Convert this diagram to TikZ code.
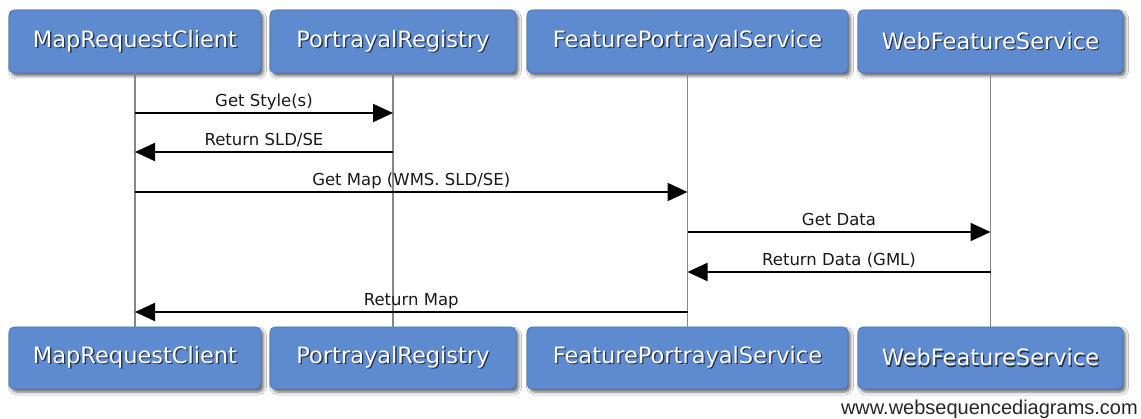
\documentclass[tikz,border=0pt]{standalone}
\usepackage{fontspec}
\setmainfont{DejaVu Sans}
\newfontfamily\footfont{Liberation Sans}
\usetikzlibrary{arrows.meta,shadows.blur}
\definecolor{actorblue}{RGB}{94,139,208}
\definecolor{actoredge}{RGB}{78,118,182}
\definecolor{textshade}{RGB}{40,50,70}
\definecolor{lifegray}{RGB}{135,135,135}
% white caption with a soft dark drop shadow
\newcommand\actorname[1]{\makebox[0pt][l]{\kern1.3pt\raisebox{-1.3pt}{\color{textshade}#1}}\color{white}#1}
\begin{document}
\begin{tikzpicture}[x=1pt,y=-1pt,
  actor/.style={fill=actorblue, draw=actoredge, line width=0.8pt, rounded corners=5pt,
    inner sep=0pt, minimum height=63pt,
    blur shadow={shadow xshift=2.5pt, shadow yshift=-3pt, shadow blur radius=3pt, shadow opacity=60},
    font=\fontsize{22.5}{27}\selectfont},
  lifeline/.style={draw=lifegray, line width=1.9pt},
  msg/.style={draw=black, line width=2pt, -{Triangle[length=20pt,width=18pt]}},
  msglabel/.style={midway, anchor=base, yshift=6pt, inner sep=0pt, text=black!90, font=\fontsize{16.5}{20}\selectfont}]
\useasboundingbox[fill=white] (0,0) rectangle (1141,419);

% participants, top row
\node[actor, minimum width=252pt] (mrcT) at (135,41.5) {\actorname{MapRequestClient}};
\node[actor, minimum width=246pt] (prT)  at (393,41.5) {\actorname{PortrayalRegistry}};
\node[actor, minimum width=321pt] (fpsT) at (687.5,41.5) {\actorname{FeaturePortrayalService}};
\node[actor, minimum width=265pt] (wfsT) at (990.5,41.5) {\actorname{WebFeatureService}};

% participants, bottom row
\node[actor, minimum width=252pt, minimum height=62pt] (mrcB) at (135,358) {\actorname{MapRequestClient}};
\node[actor, minimum width=246pt, minimum height=62pt] (prB)  at (393,358) {\actorname{PortrayalRegistry}};
\node[actor, minimum width=321pt, minimum height=62pt] (fpsB) at (687.5,358) {\actorname{FeaturePortrayalService}};
\node[actor, minimum width=265pt, minimum height=62pt] (wfsB) at (990.5,358) {\actorname{WebFeatureService}};

% lifelines
\draw[lifeline] (mrcT.south) -- (mrcB.north);
\draw[lifeline] (prT.south)  -- (prB.north);
\draw[lifeline] (fpsT.south) -- (fpsB.north);
\draw[lifeline] (wfsT.south) -- (wfsB.north);

% message rows
\coordinate (m1) at (0,113);
\coordinate (m2) at (0,152);
\coordinate (m3) at (0,192);
\coordinate (m4) at (0,232);
\coordinate (m5) at (0,272);
\coordinate (m6) at (0,312);

\draw[msg] (mrcT |- m1) -- (prT |- m1)   node[msglabel] {Get Style(s)};
\draw[msg] (prT |- m2)  -- (mrcT |- m2)  node[msglabel] {Return SLD/SE};
\draw[msg] (mrcT |- m3) -- (fpsT |- m3)  node[msglabel] {Get Map (WMS. SLD/SE)};
\draw[msg] (fpsT |- m4) -- (wfsT |- m4)  node[msglabel] {Get Data};
\draw[msg] (wfsT |- m5) -- (fpsT |- m5)  node[msglabel] {Return Data (GML)};
\draw[msg] (fpsT |- m6) -- (mrcT |- m6)  node[msglabel] {Return Map};

% footer
\node[anchor=base east, inner sep=0pt, text=black!85, font=\footfont\fontsize{20}{24}\selectfont] (credit) at (1138,415) {www.websequencediagrams.com};
\end{tikzpicture}
\end{document}
